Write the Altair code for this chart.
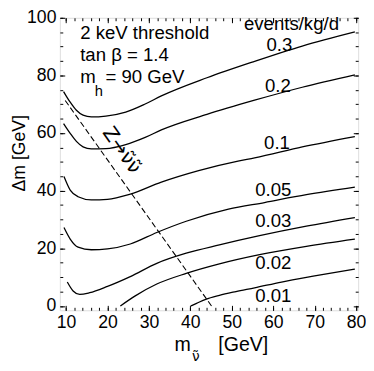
import altair as alt
import pandas as pd

FONT = "Liberation Sans"

# event-rate contour labels (events/kg/d)
rates = ["0.3", "0.2", "0.1", "0.05", "0.03", "0.02", "0.01"]

# sneutrino mass (GeV) and mass splitting Δm (GeV) along each contour
m_03 = [9.4, 11.0, 12.5, 14.1, 16.1, 19.6, 24.4, 29.1, 33.0, 44.0, 55.5, 67.0, 79.7]
d_03 = [74.4, 70.7, 67.9, 66.2, 65.6, 65.9, 67.3, 70.1, 72.9, 79.2, 84.9, 90.2, 95.1]
m_02 = [9.4, 11.0, 12.5, 14.1, 16.1, 19.6, 24.4, 29.1, 33.0, 44.0, 55.5, 67.0, 79.7]
d_02 = [63.3, 59.9, 57.1, 55.2, 54.5, 54.6, 56.0, 58.5, 61.1, 66.5, 71.4, 75.9, 80.2]
m_01 = [9.5, 11.0, 12.9, 16.1, 20.0, 25.5, 33.0, 42.0, 51.5, 55.5, 67.0, 79.7]
d_01 = [44.9, 40.2, 37.9, 36.8, 37.0, 38.8, 43.0, 47.0, 50.3, 51.4, 55.2, 58.8]
m_005 = [9.5, 11.0, 12.9, 16.1, 20.0, 25.5, 31.9, 39.0, 49.2, 57.9, 68.0, 79.7]
d_005 = [27.2, 23.2, 20.4, 19.5, 19.8, 21.5, 25.5, 29.4, 33.6, 35.9, 38.6, 41.2]
m_003 = [10.3, 11.7, 13.3, 15.7, 20.0, 25.5, 31.9, 39.0, 47.0, 56.7, 68.0, 79.7]
d_003 = [8.3, 5.2, 4.0, 4.6, 6.8, 10.2, 14.8, 18.3, 21.2, 24.4, 27.7, 30.7]
m_002 = [23.1, 26.7, 31.9, 39.0, 47.0, 56.7, 68.0, 79.7]
d_002 = [0.0, 3.5, 7.6, 11.3, 14.6, 17.8, 20.7, 23.2]
m_001 = [40.1, 41.5, 43.7, 47.0, 51.0, 55.5, 62.0, 70.0, 79.7]
d_001 = [0.0, 0.9, 2.3, 3.7, 5.0, 6.3, 8.3, 10.4, 12.8]

# Z -> sneutrino pair kinematic limit (dashed)
z_m = [9.8, 45.1]
z_d = [71.3, 0.0]

# contour label anchors
lab_m = [61.5, 61.1, 60.9, 60.0, 60.0, 60.0, 60.0]
lab_d = [90.5, 76.3, 56.6, 40.2, 29.5, 14.7, 3.4]

series = {
    "0.3": (m_03, d_03), "0.2": (m_02, d_02), "0.1": (m_01, d_01),
    "0.05": (m_005, d_005), "0.03": (m_003, d_003),
    "0.02": (m_002, d_002), "0.01": (m_001, d_001),
}
rows = []
for r in rates:
    ms, ds = series[r]
    for i, (a, b) in enumerate(zip(ms, ds)):
        rows.append({"rate": r, "i": i, "m": a, "dm": b})
curves = pd.DataFrame(rows)
zline = pd.DataFrame({"m": z_m, "dm": z_d})
labels = pd.DataFrame({"t": rates, "m": lab_m, "dm": lab_d})

ann = pd.DataFrame({
    "t": ["2 keV threshold", "tan \u03b2 = 1.4", "m", "= 90 GeV"],
    "m": [13.4, 13.4, 13.4, 19.5],
    "dm": [92.7, 84.9, 77.5, 77.5],
})
ann_sub = pd.DataFrame({"t": ["h"], "m": [16.9], "dm": [72.7]})
events = pd.DataFrame({"t": ["events/kg/d"], "m": [64.4], "dm": [95.6]})
zlab = pd.DataFrame({"t": ["Z\u2192\u03bd\u0303\u03bd\u0303"], "m": [23.4], "dm": [54.0]})

XS = alt.Scale(domain=[8.5, 80.5], nice=False, zero=False)
YS = alt.Scale(domain=[-1.5, 100], nice=False, zero=False)

x_major = list(range(10, 81, 10))
x_minor = list(range(10, 81, 2))
y_major = list(range(0, 101, 20))
y_minor = list(range(0, 101, 5))


def axis(orient, values, size, show_labels, **kw):
    return alt.Axis(orient=orient, values=values, tickSize=size, offset=-size,
                    domain=False, grid=False, labels=show_labels, ticks=True,
                    tickColor="black", tickWidth=1, labelFont=FONT,
                    labelFontSize=18, labelColor="black", **kw)


base_x = dict(field="m", type="quantitative", scale=XS)
base_y = dict(field="dm", type="quantitative", scale=YS)

lines = alt.Chart(curves).mark_line(color="black", strokeWidth=1.3, interpolate="monotone").encode(
    x=alt.X(**base_x, axis=axis("bottom", x_major, 5, True, title=None, labelPadding=4)),
    y=alt.Y(**base_y, axis=axis("left", y_major, 5, True, labelPadding=4,
                               title="\u0394m [GeV]", titleFont=FONT, titleFontSize=18,
                               titleFontWeight="normal", titleColor="black",
                               titleX=-46, titleY=138, titleAngle=270,
                               titleAlign="center", titleBaseline="middle")),
    detail="rate:N",
    order="i:Q",
)

dashed = alt.Chart(zline).mark_line(color="black", strokeWidth=1.1, strokeDash=[6, 3]).encode(
    x=alt.X(**base_x, axis=axis("bottom", x_minor, 3, False, title=None)),
    y=alt.Y(**base_y, axis=axis("left", y_minor, 3, False, title=None)),
)

lab = alt.Chart(labels).mark_text(font=FONT, fontSize=19, color="black",
                                  align="center", baseline="middle").encode(
    x=alt.X(**base_x, axis=axis("top", x_major, 5, False, title=None)),
    y=alt.Y(**base_y, axis=axis("right", y_major, 5, False, title=None)),
    text="t:N",
)

annt = alt.Chart(ann).mark_text(font=FONT, fontSize=19, color="black",
                                align="left", baseline="alphabetic").encode(
    x=alt.X(**base_x, axis=axis("top", x_minor, 3, False, title=None)),
    y=alt.Y(**base_y, axis=axis("right", y_minor, 3, False, title=None)),
    text="t:N",
)

sub = alt.Chart(ann_sub).mark_text(font=FONT, fontSize=15, color="black",
                                   align="left", baseline="alphabetic").encode(
    x=alt.X(**base_x, axis=None), y=alt.Y(**base_y, axis=None), text="t:N")

ev = alt.Chart(events).mark_text(font=FONT, fontSize=19, color="black",
                                 align="center", baseline="alphabetic").encode(
    x=alt.X(**base_x, axis=None), y=alt.Y(**base_y, axis=None), text="t:N")

zl = alt.Chart(zlab).mark_text(font="DejaVu Sans", fontSize=20, color="black",
                               align="center", baseline="middle", angle=55).encode(
    x=alt.X(**base_x, axis=None), y=alt.Y(**base_y, axis=None), text="t:N")

xt_m = alt.Chart(pd.DataFrame({"t": ["m"]})).mark_text(
    font=FONT, fontSize=20, color="black", align="right", baseline="alphabetic").encode(
    x=alt.value(134), y=alt.value(341), text="t:N")
xt_nu = alt.Chart(pd.DataFrame({"t": ["\u03bd\u0303"]})).mark_text(
    font="DejaVu Sans", fontSize=14, color="black", align="left", baseline="alphabetic").encode(
    x=alt.value(135), y=alt.value(351), text="t:N")
xt_gev = alt.Chart(pd.DataFrame({"t": ["[GeV]"]})).mark_text(
    font=FONT, fontSize=20, color="black", align="left", baseline="alphabetic").encode(
    x=alt.value(162), y=alt.value(341), text="t:N")

chart = alt.layer(lines, dashed, lab, annt, sub, ev, zl, xt_m, xt_nu, xt_gev).resolve_axis(
    x="independent", y="independent"
).properties(
    width=305, height=299,
    autosize=alt.AutoSizeParams(type="none"),
    padding={"left": 53, "top": 6, "right": 8, "bottom": 55},
).configure_view(stroke="black", strokeWidth=1.2).configure(background="white")

chart.save("out.html", embed_options={"renderer": "svg", "actions": False})
